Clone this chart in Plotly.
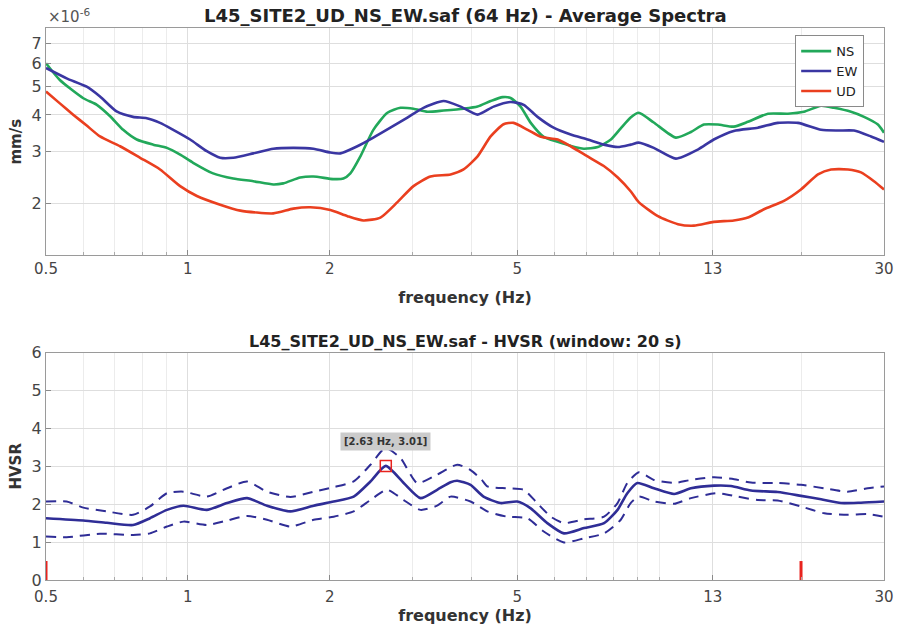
import plotly.graph_objects as go
from plotly.subplots import make_subplots

# ---- data: average spectra (x 1e-6 mm/s) ----
ns_f = [0.5, 0.535, 0.6, 0.641, 0.684, 0.729, 0.779, 0.844, 0.903, 0.963, 1.026, 1.131, 1.248, 1.377, 1.518, 1.594,
        1.731, 1.846, 2.035, 2.138, 2.212, 2.323, 2.475, 2.651, 2.825, 3.011, 3.224, 3.487, 3.846, 4.118, 4.389,
        4.654, 4.839, 5.08, 5.34, 5.69, 6.09, 6.49, 6.92, 7.41, 7.9, 8.29, 8.7, 9.05, 9.74, 10.85, 11.68, 12.44,
        13.32, 14.4, 15.43, 17.02, 18.76, 20.28, 22.06, 23.5, 25.53, 27.21, 29.12, 30]
ns_v = [6.0, 5.26, 4.56, 4.33, 3.96, 3.56, 3.30, 3.17, 3.09, 2.93, 2.75, 2.53, 2.43, 2.38, 2.32, 2.34,
        2.45, 2.47, 2.42, 2.43, 2.53, 2.89, 3.56, 4.07, 4.23, 4.2, 4.1, 4.14, 4.2, 4.27, 4.46,
        4.6, 4.57, 4.27, 3.76, 3.37, 3.24, 3.14, 3.07, 3.11, 3.30, 3.6, 3.92, 4.07, 3.77, 3.35, 3.5, 3.71,
        3.71, 3.65, 3.79, 4.04, 4.04, 4.1, 4.3, 4.23, 4.1, 3.94, 3.71, 3.48]

ew_f = [0.5, 0.553, 0.61, 0.651, 0.706, 0.765, 0.818, 0.873, 0.931, 1.011, 1.097, 1.171, 1.248, 1.377, 1.518,
        1.674, 1.846, 2.006, 2.107, 2.289, 2.475, 2.69, 2.923, 3.161, 3.487, 3.79, 4.118, 4.454, 4.839, 5.16,
        5.52, 5.97, 6.49, 7.05, 7.63, 8.17, 8.7, 9.05, 9.74, 10.85, 12.08, 13.06, 14.4, 16.2, 17.86, 19.7,
        22.06, 23.97, 25.91, 28.15, 30]
ew_v = [5.78, 5.33, 4.99, 4.62, 4.11, 3.94, 3.90, 3.76, 3.56, 3.30, 3.01, 2.86, 2.86, 2.96, 3.07,
        3.09, 3.07, 2.98, 2.96, 3.13, 3.35, 3.62, 3.92, 4.23, 4.46, 4.27, 4.01, 4.27, 4.43, 4.33,
        3.94, 3.62, 3.43, 3.30, 3.17, 3.11, 3.17, 3.22, 3.09, 2.84, 3.05, 3.30, 3.53, 3.62, 3.76, 3.76,
        3.56, 3.54, 3.54, 3.38, 3.24]

ud_f = [0.5, 0.535, 0.571, 0.61, 0.651, 0.718, 0.792, 0.873, 0.963, 1.045, 1.171, 1.292, 1.518, 1.674, 1.819,
        2.006, 2.181, 2.357, 2.562, 2.784, 3.011, 3.271, 3.609, 3.846, 4.118, 4.389, 4.676, 4.91, 5.26, 5.61,
        6.09, 6.49, 7.05, 7.63, 8.17, 8.7, 9.05, 9.94, 10.96, 11.85, 13.06, 14.4, 15.43, 16.69, 18.4, 19.99,
        21.73, 23.16, 25.17, 26.81, 28.56, 30]
ud_v = [4.81, 4.38, 4.01, 3.68, 3.38, 3.13, 2.86, 2.61, 2.29, 2.12, 1.98, 1.89, 1.85, 1.92, 1.94,
        1.90, 1.81, 1.75, 1.79, 2.02, 2.29, 2.47, 2.51, 2.61, 2.89, 3.38, 3.72, 3.76, 3.56, 3.37,
        3.30, 3.13, 2.89, 2.68, 2.45, 2.2, 2.02, 1.81, 1.70, 1.68, 1.73, 1.75, 1.79, 1.91, 2.04, 2.23,
        2.51, 2.61, 2.61, 2.55, 2.38, 2.23]

# ---- data: HVSR ----
hv_f = [0.5, 0.6, 0.673, 0.765, 0.831, 0.903, 0.979, 1.097, 1.211, 1.335, 1.472, 1.65, 1.849, 2.039, 2.248,
        2.44, 2.63, 2.87, 3.116, 3.38, 3.609, 3.729, 3.979, 4.24, 4.609, 5.0, 5.34, 5.79, 6.28, 6.93, 7.64,
        8.16, 8.56, 8.99, 9.75, 10.76, 11.68, 13.08, 14.2, 15.66, 17.84, 20.0, 22.06, 24.31, 26.81, 30]
hv_mean = [1.63, 1.57, 1.51, 1.45, 1.63, 1.85, 1.96, 1.85, 2.03, 2.16, 1.96, 1.81, 1.96, 2.07, 2.20,
           2.60, 3.01, 2.56, 2.16, 2.38, 2.58, 2.62, 2.51, 2.20, 2.03, 2.07, 1.89, 1.50, 1.23, 1.37, 1.50,
           1.85, 2.29, 2.56, 2.42, 2.27, 2.42, 2.49, 2.48, 2.36, 2.32, 2.22, 2.13, 2.03, 2.04, 2.07]

up_f = [0.5, 0.553, 0.6, 0.673, 0.765, 0.831, 0.903, 0.979, 1.097, 1.211, 1.335, 1.472, 1.65, 1.849, 2.039,
        2.248, 2.44, 2.625, 2.825, 3.066, 3.38, 3.729, 3.979, 4.2, 4.318, 4.762, 5.16, 5.51, 5.89, 6.28, 6.93,
        7.64, 8.16, 8.56, 9.06, 9.75, 10.76, 11.68, 13.08, 14.43, 15.66, 17.84, 20.0, 22.41, 25.11, 27.7, 30]
up_v = [2.07, 2.07, 1.91, 1.81, 1.72, 1.94, 2.29, 2.33, 2.20, 2.42, 2.60, 2.33, 2.19, 2.33, 2.45,
        2.60, 3.04, 3.48, 3.22, 2.56, 2.78, 3.04, 2.90, 2.65, 2.47, 2.42, 2.38, 2.03, 1.67, 1.50, 1.60,
        1.67, 2.03, 2.56, 2.84, 2.64, 2.56, 2.64, 2.71, 2.66, 2.57, 2.56, 2.51, 2.42, 2.33, 2.42, 2.47]

lo_f = [0.5, 0.553, 0.651, 0.765, 0.831, 0.903, 0.979, 1.097, 1.211, 1.335, 1.472, 1.65, 1.849, 2.039, 2.248,
        2.44, 2.647, 2.87, 3.116, 3.38, 3.609, 3.979, 4.318, 4.762, 5.25, 5.69, 6.28, 6.93, 7.64, 8.29, 8.7,
        9.06, 9.75, 10.76, 11.68, 13.3, 14.67, 16.18, 17.84, 20.0, 22.41, 25.11, 27.7, 30]
lo_v = [1.15, 1.13, 1.22, 1.19, 1.23, 1.41, 1.54, 1.45, 1.57, 1.69, 1.59, 1.41, 1.59, 1.67, 1.81,
        2.11, 2.38, 2.11, 1.85, 1.96, 2.2, 2.07, 1.81, 1.67, 1.63, 1.28, 0.99, 1.10, 1.23, 1.59, 2.03,
        2.20, 2.07, 2.01, 2.16, 2.29, 2.20, 2.11, 2.10, 1.94, 1.76, 1.72, 1.74, 1.67]

peak_f, peak_v = 2.63, 3.01
limit_f = [0.5, 20.0]
limit_h = 0.5

x_ticks = [0.5, 1, 2, 5, 13, 30]
y_ticks_top = [2, 3, 4, 5, 6, 7]
y_ticks_bot = [0, 1, 2, 3, 4, 5, 6]

GREEN = "#22a85a"
BLUE = "#3a36a2"
RED = "#ea3f1f"
NAVY = "#2f2d96"
FONT = "DejaVu Sans, Liberation Sans, Arial, sans-serif"

fig = make_subplots(rows=2, cols=1, vertical_spacing=0.176)

scale = 1e-6
fig.add_trace(go.Scatter(x=ns_f, y=[v * scale for v in ns_v], name="NS", mode="lines",
                         line=dict(color=GREEN, width=2.6, shape="spline", smoothing=0.6)), row=1, col=1)
fig.add_trace(go.Scatter(x=ew_f, y=[v * scale for v in ew_v], name="EW", mode="lines",
                         line=dict(color=BLUE, width=2.6, shape="spline", smoothing=0.6)), row=1, col=1)
fig.add_trace(go.Scatter(x=ud_f, y=[v * scale for v in ud_v], name="UD", mode="lines",
                         line=dict(color=RED, width=2.6, shape="spline", smoothing=0.6)), row=1, col=1)

fig.add_trace(go.Scatter(x=up_f, y=up_v, mode="lines", showlegend=False,
                         line=dict(color=NAVY, width=2, dash="10px,7px", shape="spline", smoothing=0.6)), row=2, col=1)
fig.add_trace(go.Scatter(x=lo_f, y=lo_v, mode="lines", showlegend=False,
                         line=dict(color=NAVY, width=2, dash="10px,7px", shape="spline", smoothing=0.6)), row=2, col=1)
fig.add_trace(go.Scatter(x=hv_f, y=hv_mean, mode="lines", showlegend=False,
                         line=dict(color=NAVY, width=2.6, shape="spline", smoothing=0.6)), row=2, col=1)
fig.add_trace(go.Scatter(x=[peak_f], y=[peak_v], mode="markers", showlegend=False,
                         marker=dict(symbol="square-open", size=11, color="#e8231e", line=dict(width=1.5))),
              row=2, col=1)
for lf in limit_f:
    fig.add_trace(go.Scatter(x=[lf, lf], y=[0, limit_h], mode="lines", showlegend=False,
                             line=dict(color="#e8231e", width=3)), row=2, col=1)

minor_vals = [0.6, 0.7, 0.8, 0.9, 3, 4, 6, 7, 8, 9, 10, 20]
fig.update_xaxes(type="log", range=[-0.30103, 1.4771], tickvals=x_ticks, automargin=False,
                 ticktext=[str(t) for t in x_ticks], showline=True, linecolor="#9a9a9a", linewidth=1,
                 mirror=True, ticks="inside", ticklen=5, tickcolor="#8a8a8a",
                 showgrid=True, gridcolor="#dedede", gridwidth=1,
                 tickfont=dict(family=FONT, size=15, color="#454545"), zeroline=False,
                 minor=dict(tickvals=minor_vals, showgrid=True, gridcolor="#ececec", ticks="inside",
                            ticklen=3, tickcolor="#aaaaaa"))
fig.update_xaxes(title=dict(text="<b>frequency (Hz)</b>", font=dict(family=FONT, size=16, color="#333333"),
                            standoff=14), row=1, col=1)
fig.update_xaxes(title=dict(text="<b>frequency (Hz)</b>", font=dict(family=FONT, size=16, color="#333333"),
                            standoff=1), ticklabelstandoff=3, row=2, col=1)

fig.update_yaxes(type="log", range=[-5.876, -5.102], tickvals=[t * scale for t in y_ticks_top],
                 ticktext=[str(t) for t in y_ticks_top], row=1, col=1)
fig.update_yaxes(range=[0, 6], tickvals=y_ticks_bot, ticktext=[str(t) for t in y_ticks_bot], row=2, col=1)
fig.update_yaxes(showline=True, linecolor="#9a9a9a", mirror=True, ticks="inside", ticklen=5, automargin=False,
                 tickcolor="#8a8a8a", showgrid=True, gridcolor="#dedede",
                 tickfont=dict(family=FONT, size=16, color="#454545"), zeroline=False)
fig.update_yaxes(title=dict(text="<b>mm/s</b>", font=dict(family=FONT, size=15, color="#333333"), standoff=6),
                 row=1, col=1)
fig.update_yaxes(title=dict(text="<b>HVSR</b>", font=dict(family=FONT, size=15, color="#333333"), standoff=6),
                 row=2, col=1)

fig.update_layout(
    width=901, height=625,
    margin=dict(l=46, r=17, t=28, b=45),
    plot_bgcolor="white", paper_bgcolor="white",
    font=dict(family=FONT, color="#333333"),
    legend=dict(x=0.894, y=0.987, xref="paper", yref="paper", xanchor="left", yanchor="top",
                bgcolor="white", bordercolor="#8a8a8a", borderwidth=1,
                font=dict(family=FONT, size=13, color="#222222"), tracegroupgap=0, itemwidth=30),
    annotations=[
        dict(text="<b>L45_SITE2_UD_NS_EW.saf (64 Hz) - Average Spectra</b>", x=0.5, y=1.0, xref="paper",
             yref="paper", xanchor="center", yanchor="bottom", yshift=0, showarrow=False,
             font=dict(family=FONT, size=18, color="#222222")),
        dict(text="<b>L45_SITE2_UD_NS_EW.saf - HVSR (window: 20 s)</b>", x=0.5, y=0.411, xref="paper",
             yref="paper", xanchor="center", yanchor="bottom", yshift=0, showarrow=False,
             font=dict(family=FONT, size=16, color="#222222")),
        dict(text="\u00d710<sup>-6</sup>", x=0.0, y=1.0, xref="paper", yref="paper", xanchor="left",
             yanchor="bottom", showarrow=False, font=dict(family=FONT, size=15, color="#555555")),
        dict(text="<b>[2.63 Hz, 3.01]</b>", x=0.42, y=3.65, xref="x2", yref="y2", showarrow=False,
             bgcolor="#cbcbcb", borderpad=3, font=dict(family=FONT, size=10, color="#333333")),
    ],
)

fig.write_html("out.html")
